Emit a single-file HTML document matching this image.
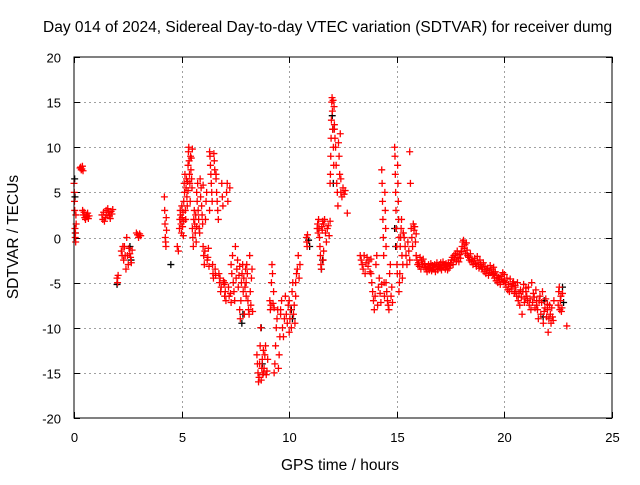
<!DOCTYPE html>
<html><head><meta charset="utf-8"><style>
body{margin:0;background:#fff;width:640px;height:480px;overflow:hidden}
svg text{font-family:"Liberation Sans",sans-serif;font-size:13px;fill:#000}
svg text.big{font-size:15.5px}
</style></head><body>
<svg id="chart" width="640" height="480" xmlns="http://www.w3.org/2000/svg">
<text class="big" x="43" y="32">Day 014 of 2024, Sidereal Day-to-day VTEC variation (SDTVAR) for receiver dumg</text>
<g id="grid"></g>
<g id="ticks"></g>
<g id="black"></g>
<g id="red"></g>
<rect x="74" y="57" width="538" height="361" fill="none" stroke="#000" stroke-width="1"/>
<text class="big" x="340" y="470" text-anchor="middle">GPS time / hours</text>
<text class="big" transform="translate(18,237) rotate(-90)" text-anchor="middle">SDTVAR / TECUs</text>
</svg>
<script>
const xTicks=[0,5,10,15,20,25];
const yTicks=[-20,-15,-10,-5,0,5,10,15,20];
// clusters: [startHour, endHour, values]
const redClusters=[
[0,0.1,[6,5,4,3,1,0,0.5,-0.5,2.5,1.5]],
[0.28,0.42,[7.7,7.8,7.5,7.6,7.9,7.4]],
[0.4,0.7,[3,2.5,2.8,2.2,2,2.5,2.3,2.7,2.1,2.4]],
[1.3,1.8,[2.5,2,2.8,1.8,2.2,3,2.5,3.2,2.8,2.4,2.1,2.9,2.6,3.1]],
[2.0,2.05,[-4.5,-5,-4.2]],
[2.2,2.7,[-1.5,-2,-1,-2.5,-1,-2,-3.5,0,-2,-3,-1.2,-1.8,-2.2,-2.8,-1.4]],
[2.9,3.1,[0.5,0.3,0,0.4,0.2]],
[4.2,4.3,[4.5,3,1.5,0,-0.5,-1,2.2,0.8]],
[4.8,4.85,[-1,-1.5]],
[4.9,5.1,[1,2,3,2.5,1.5,0.5,3.5,2.2,1.2,2.8,0.2,1.8]],
[5.1,5.3,[4,6,5,7,3,2,5.5,6.5,4.5,3.5,6.2,5.2]],
[5.3,5.5,[8,9.5,10,8.5,7,6,4,9,7.5,8.8,6.5,5.5,9.8]],
[5.5,5.7,[1,0,-1,2,3,1.5,0.5,2.5,-0.5,1.2]],
[5.7,6.0,[5,4,6,3,2,1,0.5,6.5,4.5,5.5,3.5,2.5,1.5,5.8]],
[6.0,6.3,[-1,-2,-3,-1.5,2,4,5,-2.5,-2.2,-1.2,-3.2,3]],
[6.3,6.6,[9.5,9,8,7,6,5,4,-3,-4,-4.5,9.3,8.5,7.5,-3.5,-4.2,6.5]],
[6.6,7.0,[7,5,4,3,2,-4,-5,-4.5,-6,-5.5,6,4.5,3.5,-4.8,-5.2,-6.5]],
[7.0,7.3,[-5,-6,-7,5,6,4,-5.5,-6.5,5.5,-6.2,-7.2]],
[7.3,7.7,[-3,-4,-2,-5,-6,-7,-1,-4.5,-3.5,-2.5,-5.5,-4.2,-3.2]],
[7.7,8.0,[-8,-9,-7,-5,-4,-3,-6,-4.5,-8.5,-5.5,-3.5,-6.5]],
[8.0,8.3,[-5,-3,-4,-7,-8,-8.5,-2,-6,-7.5,-4.5,-3.5,-8.2]],
[8.5,8.8,[-13,-14,-15,-16,-15.5,-14,-12,-10,-15.8,-14.5,-13.5,-15.2,-12.5]],
[8.8,9.0,[-15,-14.5,-13,-12,-15.2,-14.8,-13.5]],
[9.1,9.3,[-7,-8,-7.5,-5,-3,-4,-7.3,-6,-7.8]],
[9.3,9.6,[-15,-14,-12,-10,-9,-8,-14.5,-13,-11,-8.5]],
[9.6,10,[-8,-7,-10,-11,-9,-6.5,-8.5,-9.5,-7.5,-10.5]],
[10,10.3,[-7,-9,-8,-10,-6,-5,-8.5,-7.5,-9.5,-6.5]],
[10.3,10.5,[-5,-4,-3.5,-2,-4.5,-3]],
[10.8,10.85,[0,-0.5,-1,0.3]],
[11.3,11.6,[1,1.5,0.5,2,1,0,-1,-2,-3,-3.5,1.2,0.8,1.8,-2.5,-1.5]],
[11.6,11.9,[1.5,2,0.5,-0.5,1,1.3,0.2,1.8]],
[11.9,12.1,[6,7,9,11,13,15,15.5,14,12,15.2,10,8,14.5,12.5]],
[12.1,12.4,[12,11,10,8,6,5,3.5,10.5,9,7,11.5,6.5]],
[12.4,12.6,[5,4.5,5.5,4.8,5.2]],
[12.7,12.75,[2.7]],
[13.3,13.8,[-2,-2.5,-3,-3.5,-2,-4,-2.8,-2.2,-3.2,-2.6,-3.8,-2.4]],
[13.8,14.3,[-4,-5,-6,-7,-8,-6.5,-3,-2,-7.5,-5.5,-4.5,-6.2,-7.2,-5.2]],
[14.3,14.5,[7.5,6,4,2,0,-2,-5,-6.5,5,3,1,-1]],
[14.5,14.8,[-5,-6,-7,-7.5,-8,-4,-3,-6.5,-5.5,-7.2]],
[14.9,15.1,[10,9,7,5,3,1,-1,-3,-4,8,6,4,2,0]],
[15.1,15.3,[-6,-5,-4,-1,0,1,2,-2,-4.5,-3,0.5]],
[15.3,15.6,[0.5,0,-1,-2,-3,-0.5,-1.5,-2.5]],
[15.6,15.9,[9.5,6,1,0,-1,1.5,0.8,1.2,-0.5,0.4]],
[15.9,16.3,[-2,-2.5,-3,-2.8,-3.2,-2.2,-3.5,-2.6,-3,-2.4,-3.3,-2.9]],
[16.3,16.9,[-3,-3.3,-3.5,-3.8,-3.2,-3,-3.6,-3.4,-2.9,-3.7,-3.1,-3.3,-3.5,-3,-3.8,-3.2,-2.8,-3.6]],
[16.9,17.5,[-3.5,-3.2,-3,-3.4,-2.8,-3.6,-3.1,-2.7,-3.3,-3,-3.5,-2.9,-3.2,-3.6,-2.8,-3.4,-3.1,-3]],
[17.5,18.0,[-2.8,-2.5,-2.2,-3,-2,-2.4,-1.8,-2.6,-1.5,-2.2,-2.7,-1.9,-2.3,-1.6]],
[18.0,18.3,[-1.5,-1,-0.5,-0.3,-1.2,-0.8,-1.8,-0.6,-1.4,-2]],
[18.3,18.9,[-2,-2.2,-2.5,-1.8,-2.7,-2.4,-3,-2.6,-2.3,-2.9,-3.2,-2.1,-2.8,-3.4,-2.5,-3]],
[18.9,19.5,[-3,-3.3,-3.5,-2.8,-3.8,-3.2,-4,-3.6,-3.4,-4.2,-3.7,-3.1,-3.9,-3.5,-4.1,-3.3]],
[19.5,20.0,[-4,-4.5,-3.8,-4.8,-4.2,-5,-4.4,-4.6,-5.2,-4.3,-4.7,-3.9,-4.9,-4.1]],
[20.0,20.5,[-4.8,-5,-5.5,-4.5,-5.8,-5.2,-6,-4.6,-5.4,-5.7,-5.1,-4.9,-6.2,-5.3]],
[20.5,21.0,[-5.5,-6,-6.5,-5,-7,-6.2,-7.5,-5.8,-6.6,-8.5,-6,-5.2,-7.2,-6.8,-5.6]],
[21.0,21.5,[-6,-6.5,-7,-5.5,-7.5,-6.8,-8,-5,-7.2,-6.2,-6.6,-7.8,-5.8,-7]],
[21.5,22.0,[-7.5,-8,-9,-7,-6.5,-8.5,-7.2,-6,-9.5,-8.2,-7.8,-6.8,-8.8,-7.4]],
[22.0,22.3,[-8,-10.5,-9,-7.5,-8.5,-9.5,-7.8,-8.8,-9.2,-7]],
[22.5,22.7,[-7.5,-6,-5.5,-8,-7,-6.5,-8.2,-7.8,-6.2]],
[22.9,22.95,[-9.8]]
];
const blackClusters=[
[0.03,0.06,[6.5,4.5,0.5]],
[2.0,2.03,[-5.2]],
[2.6,2.65,[-1,-2.5]],
[4.5,4.55,[-3]],
[7.8,7.85,[-9.5,-8.5]],
[8.7,8.75,[-10,-14]],
[10.1,10.15,[-8,-9]],
[10.9,10.95,[-0.3,-1]],
[11.5,11.55,[-3.5,-2.5]],
[12.0,12.05,[13.5,12,6]],
[14.9,14.95,[1,-1]],
[21.8,21.85,[-8.8,-7]],
[22.7,22.75,[-5.5,-7.2]]
];
const X0=74,X1=612,Y0=418,Y1=57;
const sx=t=>X0+(t-0)/25*(X1-X0);
const sy=v=>Y0-(v+20)/40*(Y0-Y1);
const NS="http://www.w3.org/2000/svg";
const grid=document.getElementById('grid'),ticks=document.getElementById('ticks');
function line(g,x1,y1,x2,y2,st,dash){const l=document.createElementNS(NS,'line');l.setAttribute('x1',x1);l.setAttribute('y1',y1);l.setAttribute('x2',x2);l.setAttribute('y2',y2);l.setAttribute('stroke',st);l.setAttribute('stroke-width',1);if(dash)l.setAttribute('stroke-dasharray',dash);g.appendChild(l);return l;}
function txt(x,y,s,anchor){const t=document.createElementNS(NS,'text');t.setAttribute('x',x);t.setAttribute('y',y);t.setAttribute('text-anchor',anchor);t.textContent=s;document.getElementById('chart').appendChild(t);return t;}
xTicks.forEach(v=>{const x=Math.round(sx(v))+0.5;
 if(v>0&&v<25){const g=line(grid,x,Y0,x,Y1,'#a0a0a0','2,3');}
 line(ticks,x,Y0,x,Y0-6,'#000');line(ticks,x,Y1,x,Y1+6,'#000');
 const t=txt(x,442,String(v),'middle');
 
 });
yTicks.forEach(v=>{const y=Math.round(sy(v))+0.5;
 if(v>-20&&v<20){const g=line(grid,X0,y,X1,y,'#a0a0a0','2,3');}
 line(ticks,X0,y,X0+6,y,'#000');line(ticks,X1,y,X1-6,y,'#000');
 const t=txt(61,y+5,String(v),'end');
 
 });
function draw(clusters,gid,color){const g=document.getElementById(gid);
 clusters.forEach(c=>{const n=c[2].length;c[2].forEach((v,i)=>{const t=c[0]+(n>1?(c[1]-c[0])*i/(n-1):0);
  const x=sx(t),y=sy(v);const p=document.createElementNS(NS,'path');
  p.setAttribute('d',`M${x-3.5} ${y}H${x+3.5}M${x} ${y-3.5}V${y+3.5}`);
  p.setAttribute('stroke',color);p.setAttribute('stroke-width',1.3);p.setAttribute('fill','none');
  
  
  g.appendChild(p);});});}
draw(blackClusters,'black','#000');
draw(redClusters,'red','#ff0000');
</script>
</body></html>
